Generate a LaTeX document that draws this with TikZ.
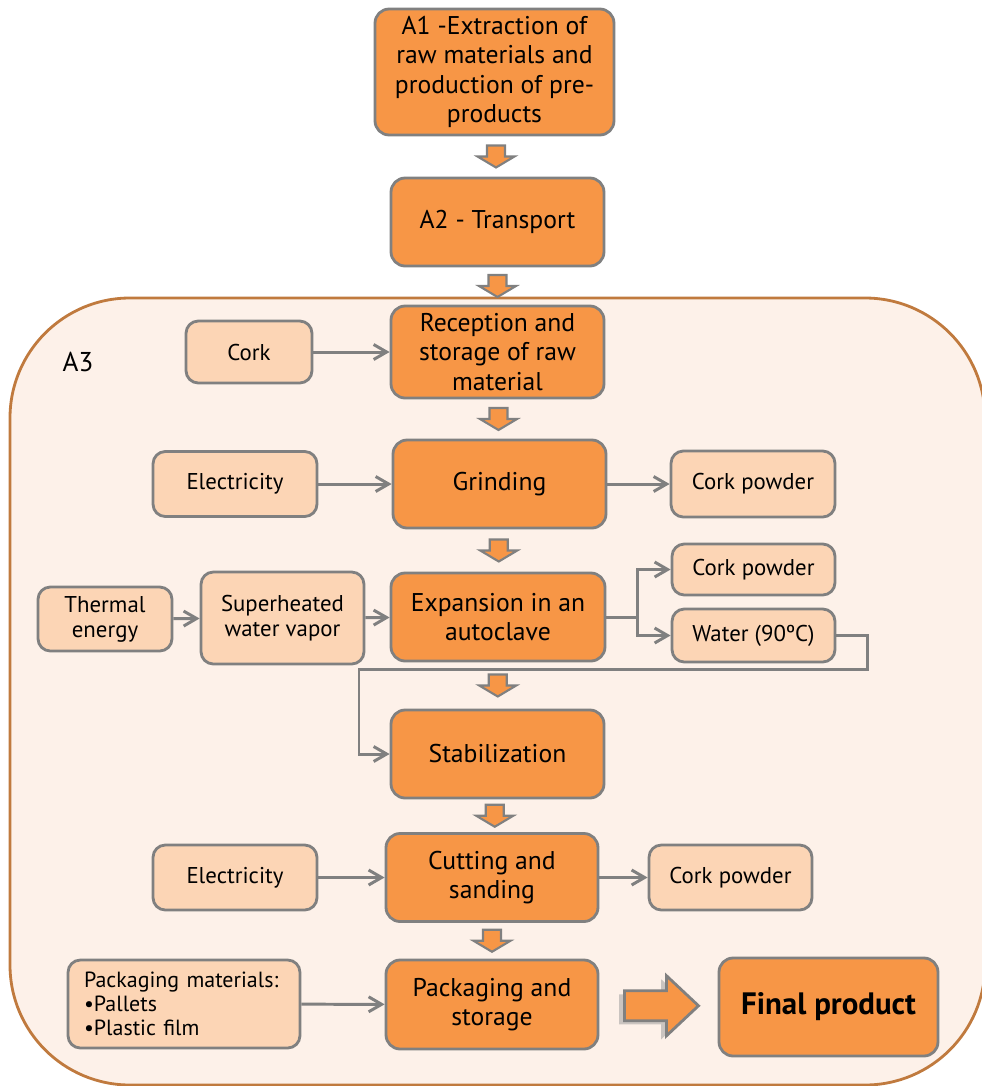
\documentclass[tikz,border=0pt]{standalone}
\usepackage{fontspec}
\setmainfont{PT Sans}
\usetikzlibrary{arrows.meta,calc,shadows}
\definecolor{boxorange}{HTML}{F79646}
\definecolor{boxpeach}{HTML}{FCD5B5}
\definecolor{framefill}{HTML}{FDF1E9}
\definecolor{framebrown}{HTML}{C07A3E}
\definecolor{linegray}{HTML}{808080}
\tikzset{
  stage/.style={draw=linegray,fill=boxorange,line width=1.6pt,rounded corners=8pt,align=center,
    font=\fontsize{14.6}{16.8}\selectfont,inner sep=0pt},
  flowin/.style={draw=linegray,fill=boxpeach,line width=1.6pt,rounded corners=7pt,align=center,
    font=\fontsize{13}{14.2}\selectfont,inner sep=0pt},
  flow/.style={draw=linegray,line width=1.7pt,-{Straight Barb[length=2.6mm,width=3mm]}},
  downarrow/.style={draw=linegray,fill=boxorange,line width=1.2pt,line join=miter},
}
\begin{document}
\begin{tikzpicture}[x=0.02cm,y=-0.02cm]
\useasboundingbox (0,0) rectangle (982,1086);
% container A3
\draw[draw=framebrown,fill=framefill,line width=1.6pt,rounded corners=2.4cm](10,298)rectangle(985,1085);
\node[font=\fontsize{15.5}{18}\selectfont]at(78,362){A3};
% main stages
\node[stage,minimum width=4.78cm,minimum height=2.52cm](a1)at(494.5,72){A1 -Extraction of\\raw materials and\\production of pre-\\products};
\node[stage,minimum width=4.26cm,minimum height=1.76cm](a2)at(497.5,222){A2 - Transport};
\node[stage,minimum width=4.26cm,minimum height=1.84cm](rec)at(497.5,352){Reception and\\storage of raw\\material};
\node[stage,minimum width=4.26cm,minimum height=1.76cm](grind)at(499.5,484){Grinding};
\node[stage,minimum width=4.28cm,minimum height=1.76cm](expan)at(498,617){Expansion in an\\autoclave};
\node[stage,minimum width=4.26cm,minimum height=1.76cm](stab)at(497.5,754){Stabilization};
\node[stage,minimum width=4.24cm,minimum height=1.76cm](cut)at(492,877.5){Cutting and\\sanding};
\node[stage,minimum width=4.24cm,minimum height=1.78cm](pack)at(492,1004.5){Packaging and\\storage};
\node[stage,minimum width=4.38cm,minimum height=1.96cm,font=\fontsize{17.6}{19}\selectfont\bfseries](final)at(828.5,1007){Final product};
% inputs and outputs
\node[flowin,minimum width=2.52cm,minimum height=1.24cm](cork)at(249,352){Cork};
\node[flowin,minimum width=3.28cm,minimum height=1.3cm](elec1)at(235,484){Electricity};
\node[flowin,minimum width=3.28cm,minimum height=1.32cm](pow1)at(753,484){Cork powder};
\node[flowin,minimum width=3.26cm,minimum height=1.02cm](pow2)at(753.5,569.5){Cork powder};
\node[flowin,minimum width=3.26cm,minimum height=1.06cm](water)at(753.5,635.5){Water (90ºC)};
\node[flowin,minimum width=2.68cm,minimum height=1.28cm](therm)at(105,619){Thermal\\energy};
\node[flowin,minimum width=3.26cm,minimum height=1.84cm](vapor)at(282.5,618){Superheated\\water vapor};
\node[flowin,minimum width=3.28cm,minimum height=1.3cm](elec2)at(235,877.5){Electricity};
\node[flowin,minimum width=3.26cm,minimum height=1.3cm](pow3)at(730.5,877.5){Cork powder};
\node[flowin,minimum width=4.64cm,minimum height=1.76cm,align=left,text width=4.0cm,
  font=\fontsize{12.5}{13.8}\selectfont](packmat)at(184,1004){Packaging materials:\\\textbullet Pallets\\\textbullet Plastic film};
% block arrows between stages
\foreach \a/\b in {a1/a2,a2/rec,rec/grind,grind/expan,expan/stab,stab/cut,cut/pack}
  \draw[downarrow]($(\a.south)!0.5!(\b.north)$)++(-9,-11) -- ++(18,0) -- ++(0,11) -- ++(9.5,0) -- ++(-18.5,11) -- ++(-18.5,-11) -- ++(9.5,0) -- cycle;
\draw[downarrow,line width=1.6pt,drop shadow={shadow xshift=-3pt,shadow yshift=-2pt,fill=black!40}]
  ($(pack.east)!0.5!(final.west)$)++(-34,-15) -- ++(42,0) -- ++(0,-15) -- ++(32,30) -- ++(-32,30) -- ++(0,-15) -- ++(-42,0) -- cycle;
% connectors
\draw[flow](cork)--(rec);
\draw[flow](elec1)--(grind);
\draw[flow](grind)--(pow1);
\draw[flow](therm)--(vapor);
\draw[flow](vapor)--(expan);
\draw[flow](expan.east)--++(31,0)|-(pow2);
\draw[flow](expan.east)++(31,0)|-(water);
\coordinate(loop)at(359,669);
\draw[flow](water.east)--++(31,0)|-(loop)|-(stab.west);
\draw[flow](elec2)--(cut);
\draw[flow](cut)--(pow3);
\draw[flow](packmat)--(pack);
\end{tikzpicture}
\end{document}
